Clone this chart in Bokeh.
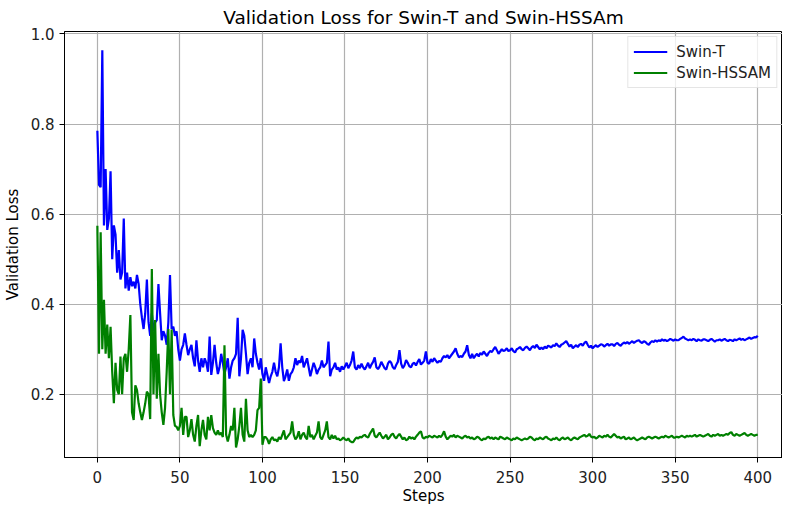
from bokeh.plotting import figure
from bokeh.models import FixedTicker, PrintfTickFormatter, Range1d, Legend, LegendItem
from bokeh.embed import file_html
from bokeh.resources import INLINE

title_text = "Validation Loss for Swin-T and Swin-HSSAm"
x_label = "Steps"
y_label = "Validation Loss"
series_names = ["Swin-T", "Swin-HSSAM"]
x_ticks = [0, 50, 100, 150, 200, 250, 300, 350, 400]
y_ticks = [0.2, 0.4, 0.6, 0.8, 1.0]

swin_t = [
    0.785, 0.665, 0.66, 0.964, 0.575, 0.70, 0.565, 0.59, 0.695, 0.50,
    0.575, 0.555, 0.47, 0.52, 0.455, 0.47, 0.59, 0.435, 0.47, 0.43,
    0.46, 0.44, 0.45, 0.435, 0.465, 0.445, 0.40, 0.37, 0.345, 0.38,
    0.455, 0.36, 0.33, 0.38, 0.34, 0.36, 0.365, 0.445, 0.38, 0.32,
    0.34, 0.33, 0.31, 0.36, 0.465, 0.345, 0.35, 0.33, 0.34, 0.30,
    0.275, 0.30, 0.31, 0.335, 0.31, 0.287, 0.30, 0.31, 0.28, 0.262,
    0.32, 0.275, 0.25, 0.28, 0.26, 0.28, 0.27, 0.25, 0.328, 0.243,
    0.27, 0.31, 0.27, 0.245, 0.26, 0.29, 0.27, 0.245, 0.26, 0.28,
    0.235, 0.26, 0.275, 0.28, 0.29, 0.37, 0.24, 0.28, 0.343, 0.33,
    0.29, 0.245, 0.27, 0.28, 0.26, 0.324, 0.29, 0.27, 0.255, 0.28,
    0.245, 0.23, 0.26, 0.243, 0.225, 0.24, 0.25, 0.27, 0.25, 0.24,
    0.26, 0.313, 0.26, 0.229, 0.24, 0.255, 0.23, 0.245, 0.25, 0.26,
    0.28, 0.265, 0.275, 0.27, 0.285, 0.26, 0.27, 0.28, 0.26, 0.24,
    0.255, 0.27, 0.26, 0.245, 0.255, 0.26, 0.275, 0.26, 0.265, 0.27,
    0.317, 0.24, 0.255, 0.26, 0.27, 0.255, 0.26, 0.25, 0.262, 0.255,
    0.262, 0.27, 0.258, 0.265, 0.275, 0.295, 0.26, 0.255, 0.265, 0.258,
    0.268, 0.26, 0.255, 0.262, 0.27, 0.258, 0.266, 0.272, 0.282, 0.26,
    0.256, 0.262, 0.272, 0.265, 0.258, 0.255, 0.268, 0.274, 0.27, 0.26,
    0.256, 0.265, 0.272, 0.298, 0.268, 0.258, 0.264, 0.276, 0.27, 0.262,
    0.26, 0.268, 0.27, 0.264, 0.272, 0.278, 0.266, 0.27, 0.275, 0.295,
    0.27, 0.268, 0.278, 0.272, 0.28, 0.275, 0.27, 0.274, 0.272, 0.28,
    0.285, 0.282, 0.287, 0.28, 0.285, 0.29, 0.295, 0.302, 0.29, 0.282,
    0.285, 0.283, 0.29, 0.295, 0.309, 0.288, 0.28, 0.29, 0.28, 0.286,
    0.29, 0.284, 0.292, 0.288, 0.295, 0.29, 0.285, 0.292, 0.296, 0.294,
    0.30, 0.305, 0.298, 0.29, 0.295, 0.30, 0.296, 0.298, 0.302, 0.296,
    0.298, 0.302, 0.296, 0.293, 0.30, 0.302, 0.305, 0.30, 0.298, 0.303,
    0.306, 0.302, 0.298, 0.304, 0.307, 0.303, 0.31, 0.305, 0.30, 0.304,
    0.30, 0.306, 0.302, 0.308, 0.306, 0.304, 0.309, 0.307, 0.313, 0.308,
    0.305, 0.31, 0.312, 0.315, 0.318, 0.312, 0.306, 0.31, 0.302, 0.306,
    0.309, 0.305, 0.31, 0.312, 0.308, 0.314, 0.317, 0.31, 0.304, 0.308,
    0.302, 0.306, 0.309, 0.305, 0.308, 0.311, 0.31, 0.306, 0.309, 0.312,
    0.308, 0.311, 0.311, 0.307, 0.312, 0.314, 0.31, 0.308, 0.312, 0.315,
    0.313, 0.316, 0.312, 0.315, 0.318, 0.314, 0.317, 0.319, 0.32, 0.316,
    0.314, 0.318, 0.316, 0.312, 0.31, 0.315, 0.318, 0.316, 0.32, 0.317,
    0.32, 0.318, 0.322, 0.319, 0.321, 0.318, 0.32, 0.323, 0.321, 0.319,
    0.322, 0.32, 0.32, 0.323, 0.325, 0.328, 0.324, 0.322, 0.32, 0.322,
    0.32, 0.323, 0.321, 0.318, 0.322, 0.32, 0.319, 0.322, 0.322, 0.32,
    0.318, 0.321, 0.323, 0.32, 0.317, 0.32, 0.32, 0.322, 0.319, 0.321,
    0.323, 0.32, 0.318, 0.321, 0.32, 0.318, 0.322, 0.32, 0.322, 0.324,
    0.321, 0.323, 0.32, 0.322, 0.324, 0.326, 0.323, 0.325, 0.327, 0.326,
    0.33,
]

swin_hssam = [
    0.574, 0.29, 0.56, 0.30, 0.41, 0.29, 0.355, 0.28, 0.35, 0.25,
    0.18, 0.27, 0.21, 0.20, 0.284, 0.20, 0.28, 0.29, 0.25, 0.30,
    0.376, 0.16, 0.143, 0.22, 0.21, 0.18, 0.16, 0.143, 0.16, 0.18,
    0.206, 0.20, 0.145, 0.478, 0.20, 0.365, 0.19, 0.29, 0.20, 0.16,
    0.132, 0.17, 0.25, 0.345, 0.20, 0.344, 0.154, 0.13, 0.128, 0.12,
    0.13, 0.17, 0.11, 0.15, 0.15, 0.105, 0.12, 0.145, 0.11, 0.095,
    0.13, 0.154, 0.085, 0.12, 0.143, 0.11, 0.10, 0.15, 0.12, 0.154,
    0.125, 0.115, 0.11, 0.12, 0.11, 0.115, 0.105, 0.309, 0.11, 0.095,
    0.11, 0.13, 0.12, 0.17, 0.082, 0.10, 0.13, 0.17, 0.11, 0.095,
    0.19, 0.12, 0.105, 0.11, 0.105, 0.11, 0.12, 0.165, 0.17, 0.235,
    0.088, 0.105, 0.105, 0.10, 0.09, 0.10, 0.105, 0.098, 0.10, 0.095,
    0.105, 0.10, 0.11, 0.12, 0.10, 0.105, 0.11, 0.115, 0.14, 0.11,
    0.10, 0.105, 0.118, 0.10, 0.11, 0.115, 0.105, 0.10, 0.13, 0.105,
    0.11, 0.10, 0.108, 0.115, 0.14, 0.105, 0.10, 0.11, 0.12, 0.14,
    0.105, 0.10, 0.11, 0.102, 0.108, 0.10, 0.102, 0.098, 0.10, 0.104,
    0.10, 0.098, 0.102, 0.096, 0.094, 0.094, 0.10, 0.104, 0.102, 0.106,
    0.104, 0.108, 0.11, 0.106, 0.104, 0.112, 0.118, 0.124, 0.108, 0.104,
    0.11, 0.115, 0.108, 0.102, 0.106, 0.11, 0.10, 0.104, 0.11, 0.113,
    0.106, 0.102, 0.108, 0.112, 0.106, 0.10, 0.104, 0.098, 0.10, 0.106,
    0.102, 0.104, 0.10, 0.106, 0.11, 0.115, 0.118, 0.104, 0.102, 0.106,
    0.104, 0.108, 0.106, 0.104, 0.108, 0.106, 0.104, 0.108, 0.105, 0.11,
    0.118, 0.106, 0.10, 0.104, 0.108, 0.106, 0.11, 0.104, 0.108, 0.106,
    0.104, 0.102, 0.106, 0.108, 0.104, 0.106, 0.102, 0.104, 0.10, 0.102,
    0.106, 0.104, 0.10, 0.098, 0.102, 0.10, 0.104, 0.106, 0.102, 0.104,
    0.10, 0.104, 0.102, 0.10, 0.106, 0.104, 0.102, 0.10, 0.104, 0.102,
    0.10, 0.098, 0.102, 0.10, 0.104, 0.102, 0.10, 0.098, 0.10, 0.102,
    0.10, 0.102, 0.106, 0.104, 0.10, 0.098, 0.102, 0.10, 0.104, 0.102,
    0.10, 0.104, 0.106, 0.102, 0.10, 0.098, 0.102, 0.10, 0.104, 0.10,
    0.098, 0.102, 0.104, 0.10, 0.102, 0.104, 0.10, 0.098, 0.102, 0.104,
    0.102, 0.10, 0.104, 0.106, 0.108, 0.11, 0.106, 0.108, 0.112, 0.106,
    0.104, 0.106, 0.102, 0.104, 0.108, 0.106, 0.104, 0.108, 0.106, 0.11,
    0.106, 0.104, 0.108, 0.112, 0.108, 0.104, 0.106, 0.102, 0.104, 0.106,
    0.10, 0.102, 0.104, 0.10, 0.102, 0.104, 0.10, 0.098, 0.10, 0.102,
    0.104, 0.102, 0.10, 0.104, 0.106, 0.104, 0.102, 0.104, 0.106, 0.104,
    0.102, 0.104, 0.106, 0.104, 0.108, 0.106, 0.104, 0.106, 0.108, 0.104,
    0.104, 0.106, 0.104, 0.106, 0.108, 0.106, 0.104, 0.108, 0.106, 0.108,
    0.106, 0.108, 0.11, 0.106, 0.108, 0.11, 0.108, 0.106, 0.108, 0.11,
    0.112, 0.108, 0.106, 0.11, 0.108, 0.11, 0.112, 0.108, 0.11, 0.108,
    0.11, 0.112, 0.11, 0.114, 0.116, 0.11, 0.108, 0.112, 0.11, 0.108,
    0.11, 0.112, 0.114, 0.11, 0.108, 0.11, 0.112, 0.11, 0.108, 0.11,
    0.11,
]

steps = list(range(len(swin_t)))

FONT = "DejaVu Sans"

p = figure(
    width=782, height=507,
    x_range=Range1d(-19.9, 415.0), y_range=Range1d(0.0597, 1.0055),
    output_backend="svg", toolbar_location=None,
    title=title_text,
    min_border_left=60, min_border_right=0, min_border_top=31, min_border_bottom=48,
)
p.background_fill_color = "white"
p.border_fill_color = "white"
p.outline_line_color = "black"
p.outline_line_width = 1

p.title.align = "center"
p.title.text_font = FONT
p.title.text_font_size = "18.5px"
p.title.text_font_style = "normal"
p.title.text_color = "black"
p.title.standoff = 8
p.title.offset = 0

l1 = p.line(steps, swin_t, line_color="blue", line_width=2.2)
l2 = p.line(steps, swin_hssam, line_color="green", line_width=2.2)

p.xaxis.ticker = FixedTicker(ticks=x_ticks)
p.yaxis.ticker = FixedTicker(ticks=y_ticks)
p.yaxis.formatter = PrintfTickFormatter(format="%.1f")
p.xaxis.axis_label = x_label
p.yaxis.axis_label = y_label

for ax in (p.xaxis, p.yaxis):
    ax.axis_label_text_font = FONT
    ax.axis_label_text_font_size = "15px"
    ax.axis_label_text_font_style = "normal"
    ax.axis_label_text_color = "black"
    ax.major_label_text_font = FONT
    ax.major_label_text_font_size = "15px"
    ax.major_label_text_color = "#222222"
    ax.axis_line_color = "black"
    ax.major_tick_line_color = "black"
    ax.major_tick_out = 5
    ax.major_tick_in = 0
    ax.minor_tick_line_color = None

p.xaxis.major_label_standoff = 8
p.xaxis.axis_label_standoff = 1
p.yaxis.major_label_standoff = 5
p.yaxis.axis_label_standoff = 6

p.grid.grid_line_color = "#b0b0b0"
p.grid.grid_line_width = 1.2

legend = Legend(items=[
    LegendItem(label=series_names[0], renderers=[l1]),
    LegendItem(label=series_names[1], renderers=[l2]),
], location="top_right")
legend.label_text_font = FONT
legend.label_text_font_size = "15px"
legend.label_text_color = "#222222"
legend.glyph_width = 34
legend.glyph_height = 19
legend.label_height = 19
legend.label_standoff = 9
legend.spacing = 2
legend.padding = 5
legend.margin = 5
legend.border_line_color = "#cccccc"
legend.border_line_width = 1
legend.background_fill_alpha = 0.8
p.add_layout(legend)

open("out.html", "w").write(file_html(p, INLINE))
